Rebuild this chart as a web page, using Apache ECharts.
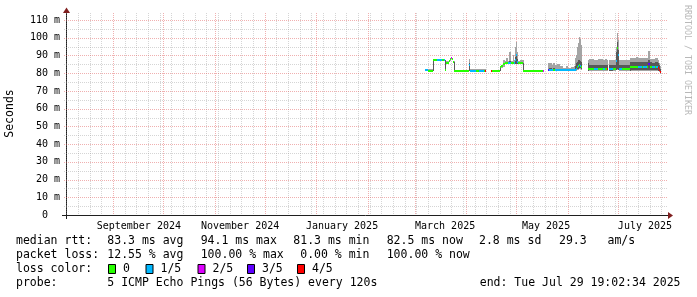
<!DOCTYPE html>
<html><head><meta charset="utf-8">
<script src="https://cdn.jsdelivr.net/npm/echarts@6/dist/echarts.min.js"></script>
<style>html,body{margin:0;padding:0;background:#fff}#c{width:697px;height:297px}</style>
</head><body><div id="c"></div>
<script>
// ---------- data ----------
const rangeStart = '2024-08-03T19:02:34';
const rangeEnd   = '2025-07-29T19:02:34';

const yMajorTicks = [0, 10, 20, 30, 40, 50, 60, 70, 80, 90, 100, 110];
const yMinorTicks = [5, 15, 25, 35, 45, 55, 65, 75, 85, 95, 105];
const monthStarts = ['2024-09-01','2024-10-01','2024-11-01','2024-12-01','2025-01-01','2025-02-01',
                     '2025-03-01','2025-04-01','2025-05-01','2025-06-01','2025-07-01'];
const firstWeekLine = '2024-08-04';
const monthLabelDates = ['2024-09-16T12:00','2024-11-16T06:00','2025-01-16T10:00','2025-03-19T06:00','2025-05-18T20:00','2025-07-17T04:00'];
const monthLabelTexts = ['September 2024','November 2024','January 2025','March 2025','May 2025','July 2025'];

// sample times (each sample lasts until the next one)
const times = [
 '2025-03-07T04:00','2025-03-08T23:30','2025-03-11T23:30','2025-03-12T14:00','2025-03-14T09:00','2025-03-17T09:00',
 '2025-03-18T14:00','2025-03-19T04:30','2025-03-19T18:45','2025-03-21T14:00','2025-03-22T04:30','2025-03-22T18:45',
 '2025-03-23T09:00','2025-03-23T23:30','2025-03-24T14:00','2025-03-25T04:30','2025-04-02T14:00','2025-04-03T04:30',
 '2025-04-06T18:45','2025-04-08T14:00','2025-04-11T14:00','2025-04-12T04:30','2025-04-12T18:45','2025-04-15T18:45',
 '2025-04-16T09:00','2025-04-21T04:30','2025-04-21T18:45','2025-04-22T23:30','2025-04-24T04:30','2025-04-24T18:45',
 '2025-04-25T23:30','2025-04-26T14:00','2025-04-27T18:45','2025-04-28T23:30','2025-04-29T14:00','2025-04-30T04:30',
 '2025-04-30T18:45','2025-05-01T09:00','2025-05-01T23:30','2025-05-03T04:30','2025-05-04T23:30','2025-05-05T14:00',
 '2025-05-16T23:30','2025-05-17T14:00','2025-05-19T23:30','2025-05-20T14:00','2025-05-22T09:00','2025-05-22T23:30',
 '2025-05-24T04:30','2025-05-25T09:00','2025-05-27T04:30','2025-05-28T23:30','2025-05-30T18:45','2025-05-31T23:30',
 '2025-06-02T18:45','2025-06-04T14:00','2025-06-05T04:30','2025-06-05T18:45','2025-06-06T09:00','2025-06-06T23:30',
 '2025-06-07T14:00','2025-06-08T04:30','2025-06-08T18:45','2025-06-09T09:00','2025-06-12T23:30','2025-06-13T14:00',
 '2025-06-16T14:00','2025-06-18T23:30','2025-06-21T23:30','2025-06-23T04:30','2025-06-24T09:00','2025-06-24T23:30',
 '2025-06-25T14:00','2025-06-27T23:30','2025-06-29T18:45','2025-06-30T09:00','2025-06-30T23:30','2025-07-01T14:00',
 '2025-07-03T09:00','2025-07-05T18:45','2025-07-08T04:30','2025-07-08T18:45','2025-07-11T18:45','2025-07-12T23:30',
 '2025-07-15T09:00','2025-07-15T23:30','2025-07-18T09:00','2025-07-18T23:30','2025-07-20T04:30','2025-07-21T09:00',
 '2025-07-23T04:30','2025-07-23T18:45','2025-07-24T23:30','2025-07-25T14:00','2025-07-26T04:30','2025-07-26T18:45'
];
// median rtt (ms); null = no data
const median = [
 81.6,81.4,87.3,87.4,87.5,87.4, 87.4,81.6,86.0,87.0,88.0,88.7, 88.0,86.2,81.5,81.3,84.5,81.4,
 81.3,81.4,81.3,81.4,null,81.4, 81.3,83.5,83.8,85.3,85.5,85.5, 85.6,85.6,85.5,85.5,85.6,87.5,
 90.0,86.5,85.6,85.5,81.5,81.3, 81.4,null,81.6,81.6,81.6,81.6, 81.6,81.6,81.6,81.6,81.6,81.6,
 81.6,81.6,82.0,82.5,83.5,84.0, 84.6,84.2,83.5,null,82.3,82.3, 82.3,82.3,82.3,82.3,82.3,null,
 82.3,82.3,87.0,94.1,90.0,82.3, 82.3,82.3,83.6,83.6,83.6,83.5, 83.6,83.5,83.6,85.3,83.6,83.5,
 83.6,83.5,83.0,82.0,80.8,null
];
// lost pings out of 5
const loss = [
 1,0,0,0,1,0, 1,0,0,0,0,2, 0,0,0,0,1,1,
 0,1,0,4,0,4, 0,0,0,0,0,0, 1,1,0,0,1,1,
 1,1,0,0,0,0, 2,0,3,1,1,0, 1,1,1,1,1,1,
 1,1,1,1,0,1, 0,1,0,0,0,0, 1,0,1,0,4,0,
 1,0,1,0,1,1, 0,0,0,0,0,1, 0,1,0,3,0,1,
 0,1,4,4,4,0
];
// smoke: fastest, 2nd, 4th, slowest ping (ms)
const pingMin = [
 81.0,81.0,81.3,87.0,87.0,87.0, 87.0,81.3,85.5,86.5,87.0,88.0, 87.5,85.8,81.3,81.0,81.3,81.0,
 81.0,81.0,81.0,81.0,null,81.0, 81.0,81.3,83.2,83.5,84.9,84.9, 84.9,84.9,84.9,84.9,84.9,84.9,
 85.0,85.0,84.9,84.9,81.3,81.0, 81.0,null,81.0,81.0,81.0,81.0, 81.0,81.0,81.0,81.0,81.0,81.0,
 81.0,81.0,81.2,81.5,82.0,82.0, 82.5,82.5,82.0,null,81.3,81.5, 81.5,81.5,81.5,81.5,81.5,null,
 81.3,81.5,81.8,82.0,82.0,81.5, 81.5,81.5,81.3,81.2,81.2,81.2, 81.2,81.2,81.2,81.4,81.2,81.2,
 81.2,81.2,81.0,80.5,79.5,null
];
const pingLow = [
 81.3,81.2,81.3,87.2,87.2,87.2, 87.2,81.3,85.8,86.8,87.6,88.4, 87.8,86.0,81.3,81.2,81.4,81.2,
 81.2,81.2,81.2,81.2,null,81.2, 81.2,81.3,83.5,84.5,85.2,85.2, 85.2,85.3,85.2,85.2,85.2,85.3,
 85.3,85.3,85.2,85.2,81.3,81.2, 81.2,null,81.3,81.2,81.2,81.2, 81.2,81.2,81.2,81.2,81.2,81.2,
 81.2,81.2,81.3,81.8,82.5,82.5, 83.0,83.0,82.5,null,81.3,81.6, 81.6,81.6,81.6,81.6,81.6,null,
 81.5,81.6,82.0,82.5,82.0,81.6, 81.6,81.6,81.5,81.6,81.6,81.6, 81.6,81.6,81.6,81.8,81.6,81.6,
 81.6,81.6,81.4,81.0,80.0,null
];
const pingHigh = [
 82.0,81.7,87.4,87.6,87.7,87.6, 87.6,87.4,86.4,87.3,88.3,89.0, 88.3,86.6,86.3,81.6,86.0,81.7,
 81.7,81.7,81.7,81.7,null,81.6, 81.6,83.8,84.2,85.6,85.9,86.0, 86.0,87.0,86.0,86.2,86.2,89.0,
 90.5,88.0,86.0,86.0,85.8,81.6, 81.6,null,82.5,82.8,82.5,82.8, 82.4,82.6,82.2,82.0,82.2,82.0,
 82.2,82.4,84.0,85.5,86.5,87.5, 87.3,87.0,86.5,null,86.0,84.6, 84.4,84.6,84.4,84.6,84.4,null,
 84.6,84.4,92.0,97.5,93.0,84.6, 84.4,84.8,86.5,86.2,86.3,86.2, 86.2,86.2,86.2,87.5,86.2,86.0,
 86.2,86.2,85.5,84.5,82.5,null
];
const pingMax = [
 82.6,82.2,87.6,87.9,88.0,87.9, 87.9,87.6,86.8,87.6,88.6,89.3, 88.6,87.0,86.6,82.0,87.8,82.1,
 82.1,82.1,82.1,82.1,null,82.0, 82.0,84.2,84.6,87.4,86.8,88.5, 86.8,92.1,86.8,90.5,87.2,95.0,
 97.7,92.0,87.0,87.4,87.4,82.0, 82.0,null,85.5,85.6,84.5,85.6, 84.8,85.0,83.8,83.2,83.8,83.0,
 83.5,84.2,88.5,90.5,95.0,97.0, 100.5,99.5,96.0,null,87.5,87.8, 87.3,88.0,87.5,87.8,87.5,null,
 87.4,87.2,95.0,102.8,99.0,87.3, 87.4,87.6,88.4,88.4,89.3,88.4, 88.4,88.4,88.4,92.7,88.2,88.0,
 88.5,88.5,87.5,86.0,84.0,null
];

const lossLabels = ['0', '1/5', '2/5', '3/5', '4/5'];
const lossColors = ['#26ff00', '#00b8ff', '#dd00ff', '#5e00ff', '#ff0000'];
const medianRow = ['median rtt:', '83.3 ms avg', '94.1 ms max', '81.3 ms min', '82.5 ms now', '2.8 ms sd', '29.3   am/s'];
const lossRow   = ['packet loss:', '12.55 % avg', '100.00 % max', ' 0.00 % min', '100.00 % now'];
const probeLabel = 'probe:';
const probeText = '5 ICMP Echo Pings (56 Bytes) every 120s';
const endText = 'end: Tue Jul 29 19:02:34 2025';
const yAxisTitle = 'Seconds';
const watermark = 'RRDTOOL / TOBI OETIKER';

// ---------- build ----------
const ts = s => new Date(s.length === 10 ? s + 'T00:00:00' : s).getTime();
const tMin = ts(rangeStart), tMax = ts(rangeEnd);

const rows = [];
for (let i = 0; i < times.length - 1; i++) {
  if (median[i] == null) continue;
  rows.push([ts(times[i]), ts(times[i + 1]), median[i], loss[i], pingMin[i], pingLow[i], pingHigh[i], pingMax[i]]);
}
const DAY = 86400000;
const monthTs = monthStarts.map(ts);
const weekRows = [];
for (let t = ts(firstWeekLine); t < tMax; t += 7 * DAY) {
  const d = new Date(t + 6 * 3600000);
  const aligned = new Date(d.getFullYear(), d.getMonth(), d.getDate()).getTime();
  if (!monthTs.includes(aligned)) weekRows.push([aligned, 0]);
}
const vRows = weekRows.concat(monthTs.map(t => [t, 1]));
const hRows = yMinorTicks.map(v => [tMin, v, 0]).concat(yMajorTicks.filter(v => v > 0).map(v => [tMin, v, 1]));
const labelTs = monthLabelDates.map(ts);

const GRID_C = 'rgba(150,150,150,0.4)';
const MGRID_C = 'rgba(222,79,79,0.45)';
const MONO = '"DejaVu Sans Mono", monospace';

function band(lo, hi, color) {
  return function (params, api) {
    const a = api.coord([api.value(0), api.value(lo)]);
    const b = api.coord([api.value(1), api.value(hi)]);
    const x0 = Math.round(a[0]), x1 = Math.round(b[0]);
    const y0 = Math.round(a[1]), y1 = Math.round(b[1]);
    return { type: 'rect', shape: { x: x0, y: Math.min(y0, y1), width: Math.max(1, x1 - x0), height: Math.max(1, Math.abs(y0 - y1)) },
             style: { fill: color } };
  };
}
function medianItem(params, api) {
  const a = api.coord([api.value(0), api.value(2)]);
  const b = api.coord([api.value(1), api.value(2)]);
  const x0 = Math.round(a[0]), x1 = Math.round(b[0]);
  const y = Math.round(a[1]);
  return { type: 'rect', shape: { x: x0, y: y - 1, width: Math.max(1, x1 - x0), height: 2 },
           style: { fill: lossColors[api.value(3)] } };
}
function vLine(params, api) {
  const cs = params.coordSys;
  const x = Math.round(api.coord([api.value(0), 0])[0]) + 0.5;
  return { type: 'line', shape: { x1: x, y1: cs.y, x2: x, y2: cs.y + cs.height },
           style: { stroke: api.value(1) ? MGRID_C : GRID_C, lineWidth: 1, lineDash: [1, 1] } };
}
function hLine(params, api) {
  const cs = params.coordSys;
  const y = Math.round(api.coord([api.value(0), api.value(1)])[1]) + 0.5;
  return { type: 'line', shape: { x1: cs.x - 2, y1: y, x2: cs.x + cs.width + 2, y2: y },
           style: { stroke: api.value(2) ? MGRID_C : GRID_C, lineWidth: 1, lineDash: [1, 1] } };
}

// legend graphics
const g = [];
const colX = [16, 107.3, 200.7, 293.3, 386.7, 479, 559];
function txt(s, x, y, opts) {
  return Object.assign({ type: 'text', x: x, y: y, silent: true,
    style: Object.assign({ text: s, fill: '#000', font: '11.5px ' + MONO, align: 'left', verticalAlign: 'middle' }, opts && opts.style) }, opts && opts.el);
}
medianRow.forEach((s, i) => g.push(txt(s, colX[i], 241.5)));
lossRow.forEach((s, i) => g.push(txt(s, colX[i], 255.5)));
g.push(txt('loss color:', 16, 269.5));
const boxX = [108.5, 146, 198, 247.5, 297.5];
lossLabels.forEach((s, i) => {
  g.push({ type: 'rect', silent: true, shape: { x: boxX[i], y: 264.5, width: 7, height: 9 },
           style: { fill: lossColors[i], stroke: '#000', lineWidth: 1 } });
  g.push(txt(s, boxX[i] + 14.5, 269.5));
});
g.push(txt(probeLabel, 16, 283.5));
g.push(txt(probeText, 107.3, 283.5));
g.push(txt(endText, 680.5, 283.5, { style: { align: 'right' } }));
g.push(txt(yAxisTitle, 10.5, 113.5, { style: { align: 'center' }, el: { rotation: Math.PI / 2 } }));
g.push(txt(watermark, 687.5, 5, { style: { font: '8.3px ' + MONO, fill: '#b8b8b8' }, el: { rotation: -Math.PI / 2 } }));
// axes with arrows
g.push({ type: 'line', silent: true, shape: { x1: 62, y1: 215.5, x2: 669, y2: 215.5 }, style: { stroke: '#1f1f1f', lineWidth: 1 } });
g.push({ type: 'line', silent: true, shape: { x1: 66.5, y1: 219, x2: 66.5, y2: 11 }, style: { stroke: '#1f1f1f', lineWidth: 1 } });
g.push({ type: 'polygon', silent: true, shape: { points: [[668, 212], [673, 215.5], [668, 219]] }, style: { fill: '#801f1f' } });
g.push({ type: 'polygon', silent: true, shape: { points: [[63, 13], [66.5, 7.5], [70, 13]] }, style: { fill: '#801f1f' } });

const chart = echarts.init(document.getElementById('c'), null, { renderer: 'canvas' });
chart.setOption({
  animation: false,
  backgroundColor: '#ffffff',
  grid: { left: 66, top: 13, width: 600, height: 202, containLabel: false },
  xAxis: {
    type: 'value', min: tMin, max: tMax,
    axisLine: { show: false }, axisTick: { show: false }, splitLine: { show: false },
    axisLabel: {
      customValues: labelTs, margin: 6, color: '#000', fontFamily: MONO, fontSize: 10,
      formatter: v => monthLabelTexts[labelTs.indexOf(v)] || ''
    }
  },
  yAxis: {
    type: 'value', min: 0, max: 113.95,
    axisLine: { show: false }, splitLine: { show: false },
    axisTick: { show: false },
    axisLabel: {
      customValues: yMajorTicks, margin: 6, color: '#000', fontFamily: MONO, fontSize: 10,
      formatter: v => (v === 0 ? '0  ' : v + ' m')
    }
  },
  series: [
    { type: 'custom', renderItem: vLine, data: vRows, encode: { x: 0 }, silent: true, z: 1 },
    { type: 'custom', renderItem: hLine, data: hRows, encode: { x: 0, y: 1 }, silent: true, z: 1 },
    { type: 'custom', renderItem: band(4, 7, '#a4a4a4'), data: rows, encode: { x: [0, 1], y: [4, 7] }, silent: true, z: 2, clip: true },
    { type: 'custom', renderItem: band(5, 6, '#585858'), data: rows, encode: { x: [0, 1], y: [5, 6] }, silent: true, z: 3, clip: true },
    { type: 'custom', renderItem: medianItem, data: rows, encode: { x: [0, 1], y: 2 }, silent: true, z: 4, clip: true }
  ],
  graphic: g
});
</script></body></html>
